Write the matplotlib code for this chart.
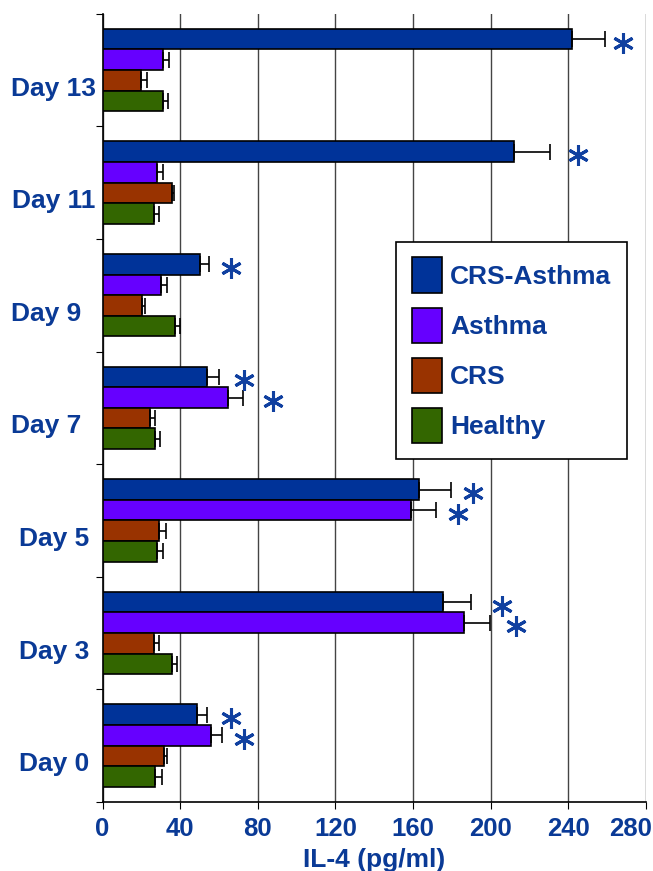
import numpy as np
import matplotlib
matplotlib.use("Agg")
import matplotlib.pyplot as plt
import matplotlib.transforms as mtransforms

# data (IL-4, pg/ml)
days = ["Day 0", "Day 3", "Day 5", "Day 7  ", "Day 9  ", "Day 11", "Day 13"]
series = ["CRS-Asthma", "Asthma", "CRS", "Healthy"]
crs_asthma = [48.7, 175.3, 163.3, 54.1, 50.2, 212.0, 242.0]
crs_asthma_err = [5.2, 14.8, 16.3, 6.0, 4.8, 18.7, 17.0]
asthma = [55.8, 186.3, 159.1, 64.8, 30.1, 28.3, 31.4]
asthma_err = [5.6, 13.4, 12.6, 7.6, 2.9, 3.1, 2.8]
crs = [31.5, 26.4, 29.2, 24.4, 20.1, 35.6, 19.8]
crs_err = [1.9, 2.8, 3.5, 2.7, 1.9, 1.0, 2.9]
healthy = [27.1, 35.8, 27.9, 27.0, 37.5, 26.4, 31.4]
healthy_err = [3.3, 2.4, 3.5, 2.4, 2.5, 2.8, 2.4]

# significance stars: (day index, series index, x position)
stars = [(0, 0, 66), (0, 1, 73), (1, 0, 206), (1, 1, 213), (2, 0, 191), (2, 1, 183),
         (3, 0, 73), (3, 1, 88), (4, 0, 66), (5, 0, 245), (6, 0, 268)]

colors = ["#003399", "#6600ff", "#993300", "#336600"]
text_blue = "#0a3a96"
star_blue = "#1040a0"

plt.rcParams["font.family"] = ["Liberation Sans", "DejaVu Sans"]
plt.rcParams["font.weight"] = "bold"

fig = plt.figure(figsize=(6.53, 8.71), dpi=100)
ax = fig.add_axes([0.157, 0.0792, 0.832, 0.905])

y = np.arange(len(days))
h = 0.183
offsets = [1.5 * h, 0.5 * h, -0.5 * h, -1.5 * h]
vals = [crs_asthma, asthma, crs, healthy]
errs = [crs_asthma_err, asthma_err, crs_err, healthy_err]

for name, v, e, c, off in zip(series, vals, errs, colors, offsets):
    ax.barh(y + off, v, height=h, color=c, edgecolor="black", linewidth=1.2,
            label=name, zorder=3)
    ax.errorbar(v, y + off, xerr=[np.zeros(len(e)), e], fmt="none",
                ecolor="black", elinewidth=1.2, capsize=6, capthick=1.2, zorder=4)

for d, s, xs in stars:
    ax.plot(xs, y[d] + offsets[s] - 0.03, marker=(6, 2, 0), markersize=15,
            markeredgewidth=2.2, color=star_blue, linestyle="none", zorder=5)

ax.set_xlim(0, 280)
ax.set_ylim(-0.5, len(days) - 0.5)
ax.set_xticks(np.arange(0, 281, 40))
ax.xaxis.grid(True, color="#444444", linewidth=1.0, zorder=0)
ax.set_axisbelow(True)

ax.set_yticks(np.arange(-0.5, len(days), 1.0))
ax.set_yticklabels([])
ax.set_yticks(y, minor=True)
ax.set_yticklabels(days, minor=True, fontsize=19, color=text_blue, fontweight="bold",
                   ha="center")
ax.tick_params(axis="y", which="minor", length=0, pad=35)
ax.tick_params(axis="y", which="major", length=5, direction="out")
shift = mtransforms.ScaledTranslation(0, -16 / 100, fig.dpi_scale_trans)
for lab in ax.get_yticklabels(minor=True):
    lab.set_transform(lab.get_transform() + shift)

ax.tick_params(axis="x", length=5, direction="out", labelsize=18.5,
               labelcolor=text_blue, pad=6)
xlabs = ax.get_xticklabels()
for lab in xlabs:
    lab.set_fontweight("bold")
xlabs[-1].set_horizontalalignment("right")
xlabs[-1].set_transform(xlabs[-1].get_transform()
                        + mtransforms.ScaledTranslation(6 / 100, 0, fig.dpi_scale_trans))

ax.set_xlabel("IL-4 (pg/ml)", fontsize=19, color=text_blue, fontweight="bold", labelpad=5)

for sp in ["top", "right"]:
    ax.spines[sp].set_visible(False)
ax.spines["left"].set_linewidth(1.2)
ax.spines["bottom"].set_linewidth(1.2)

leg = ax.legend(loc="upper left", bbox_to_anchor=(0.54, 0.711), borderaxespad=0,
                fontsize=19, frameon=True, fancybox=False, edgecolor="black",
                framealpha=1, handlelength=1.15, handleheight=1.7, labelspacing=0.55,
                borderpad=0.6, handletextpad=0.3)
leg.get_frame().set_linewidth(1.2)
for t in leg.get_texts():
    t.set_color(text_blue)
    t.set_fontweight("bold")

fig.savefig("out.png", dpi=100)
